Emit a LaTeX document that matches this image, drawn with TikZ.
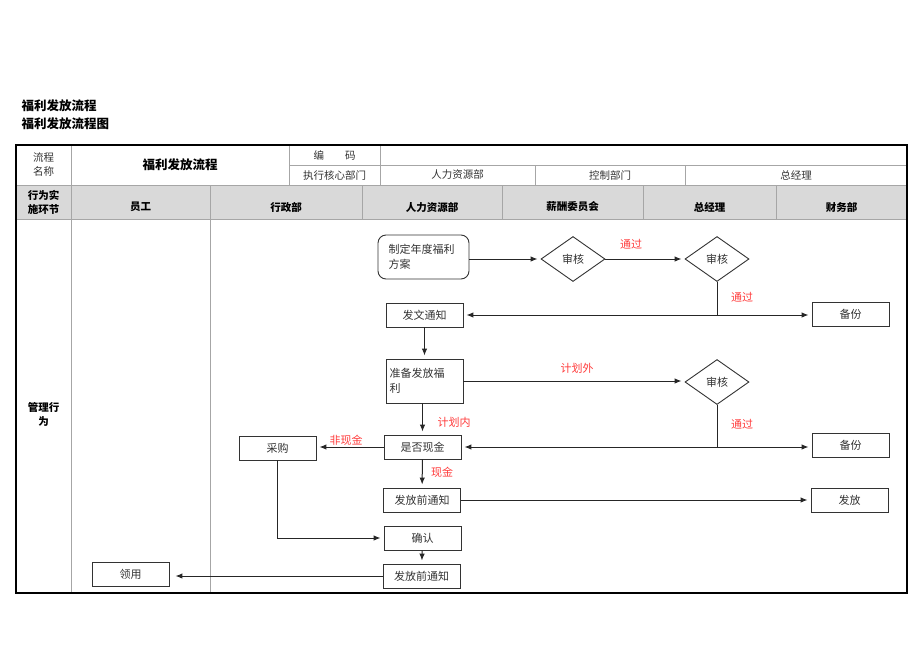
\documentclass[tikz,border=0pt]{standalone}
\usepackage{fontspec}
\setmainfont{Noto Sans CJK SC}
\usepackage{xcolor}
\usetikzlibrary{arrows.meta,shapes.geometric}
\definecolor{grid}{HTML}{A6A6A6}
\definecolor{head}{HTML}{D9D9D9}
\definecolor{note}{HTML}{FF3B3B}
\definecolor{ink}{HTML}{333333}
\tikzset{
  frame/.style={draw=black, line width=2.6pt},
  rule/.style={draw=grid, line width=0.8pt},
  cell/.style={text=ink, font=\fontsize{10.5}{14}\selectfont},
  headcell/.style={text=black, font=\fontsize{10.5}{14}\selectfont\bfseries},
  box/.style={draw=black!80, line width=0.9pt, minimum width=77pt, minimum height=24pt, inner sep=0pt, text=ink, font=\fontsize{11}{15}\selectfont},
  tallbox/.style={box, minimum height=44pt, text width=70pt, align=left},
  check/.style={diamond, draw=black!80, line width=0.9pt, minimum width=64pt, minimum height=45pt, aspect=1.42, inner sep=0pt, text=ink, font=\fontsize{11}{15}\selectfont},
  flow/.style={draw=black!85, line width=1pt},
  arr/.style={flow, -{Latex[length=7pt,width=5.5pt]}, shorten >=3pt},
  biarr/.style={flow, {Latex[length=7pt,width=5.5pt]}-{Latex[length=7pt,width=5.5pt]}, shorten >=3pt, shorten <=3pt},
  lbl/.style={text=note, font=\fontsize{11}{15}\selectfont},
}
\begin{document}
\begin{tikzpicture}[x=1pt,y=-1pt]
\useasboundingbox (0,0) rectangle (920,651);

\node[anchor=west, font=\fontsize{12.5}{15}\selectfont\bfseries] (doc1) at (18,106) {福利发放流程};
\node[anchor=west, font=\fontsize{12.5}{15}\selectfont\bfseries] (doc2) at (18,124) {福利发放流程图};

\fill[head] (16,185) rectangle (907,219);
\draw[rule] (289,165) -- (907,165);
\draw[rule] (16,185) -- (907,185);
\draw[rule] (16,219) -- (907,219);
\draw[rule] (71,145) -- (71,593);
\draw[rule] (289,145) -- (289,185);
\draw[rule] (380,145) -- (380,185);
\draw[rule] (535,165) -- (535,185);
\draw[rule] (685,165) -- (685,185);
\draw[rule] (210,185) -- (210,593);
\foreach \xx in {362,502,643,776}
  \draw[rule] (\xx,185) -- (\xx,219);
\draw[frame] (16,145) rectangle (907,593);

\node[cell, align=center] (procname) at (43.5,165) {流程\\名称};
\node[cell, font=\fontsize{12.5}{15}\selectfont\bfseries, text=black] (proctitle) at (180,165) {福利发放流程};
\node[cell] (code) at (334.5,155) {编\hspace{2em}码};
\node[cell] (owner) at (334.5,175) {执行核心部门};
\node[cell] (ownerhr) at (457.5,175) {人力资源部};
\node[cell] (ownerctl) at (610,175) {控制部门};
\node[cell] (ownergm) at (796,175) {总经理};

\node[headcell, align=center] (stage) at (43.5,202) {行为实\\施环节};
\node[headcell] (colstaff) at (140.5,207) {员工};
\node[headcell] (coladmin) at (286,207) {行政部};
\node[headcell] (colhr) at (432,207) {人力资源部};
\node[headcell] (colpay) at (572.5,207) {薪酬委员会};
\node[headcell] (colgm) at (709.5,207) {总经理};
\node[headcell] (colfin) at (841.5,207) {财务部};
\node[headcell, align=center] (mgmt) at (43.5,414) {管理行\\为};

\node[tallbox, rounded corners=8pt, minimum width=91pt] (plan) at (423.5,257) {制定年度福利\\方案};
\node[check] (review1) at (573,259) {审核};
\node[check] (review2) at (717,259) {审核};
\node[box] (notice) at (424.5,315) {发文通知};
\node[box] (backup1) at (850.5,314) {备份};
\node[tallbox] (prepare) at (424.5,381) {准备发放福\\利};
\node[check] (review3) at (717,382) {审核};
\node[box] (cash) at (422.5,447) {是否现金};
\node[box] (backup2) at (850.5,445) {备份};
\node[box] (purchase) at (277.5,448) {采购};
\node[box] (prenotice1) at (422,500) {发放前通知};
\node[box] (issue) at (849.5,500) {发放};
\node[box] (confirm) at (422.5,538) {确认};
\node[box] (prenotice2) at (421.5,576) {发放前通知};
\node[box] (receive) at (130.5,574) {领用};

\node[lbl] (pass1) at (631,244) {通过};
\node[lbl] (pass2) at (742,297) {通过};
\node[lbl] (outplan) at (577,368) {计划外};
\node[lbl] (pass3) at (742,424) {通过};
\node[lbl] (inplan) at (454,422) {计划内};
\node[lbl] (noncash) at (346,440) {非现金};
\node[lbl] (iscash) at (442,472) {现金};

\draw[arr] (plan.east |- review1.west) -- (review1.west);
\draw[arr] (review1) -- (review2);
\draw[flow] (review2.south) -- (review2.south |- notice.east);
\draw[biarr] (notice.east) -- (notice.east -| backup1.west);
\draw[arr] (notice) -- (prepare);
\draw[arr] (prepare.east) -- (prepare.east -| review3.west);
\draw[flow] (review3.south) -- (review3.south |- cash.east);
\draw[biarr] (cash.east) -- (cash.east -| backup2.west);
\draw[arr] (prepare.south -| cash.north) -- (cash.north);
\draw[arr] (cash.west) -- (cash.west -| purchase.east);
\draw[arr] (cash) -- (prenotice1);
\draw[arr] (prenotice1) -- (issue);
\draw[arr] (purchase.south) |- (confirm.west);
\draw[arr] (confirm) -- (prenotice2);
\draw[arr] (prenotice2.west) -- (prenotice2.west -| receive.east) [shorten >=6pt];
\end{tikzpicture}
\end{document}
